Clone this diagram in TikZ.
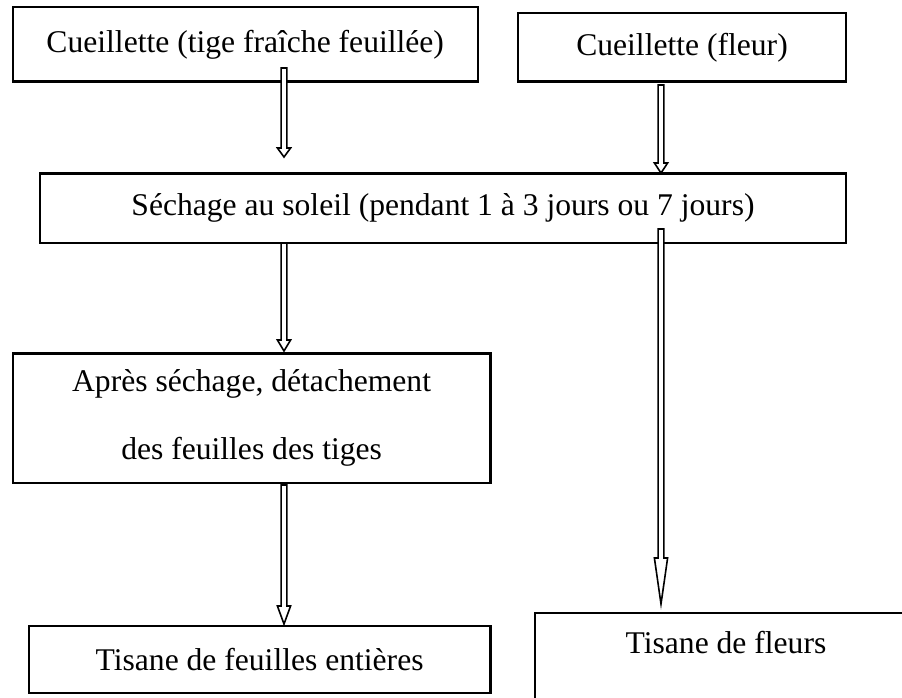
\documentclass[tikz,border=0pt]{standalone}
\usepackage{fontspec}
\setmainfont{Liberation Serif}
\usetikzlibrary{calc}
\tikzset{
  box/.style={draw=black, line width=2.4pt, fill=white, rectangle, inner sep=0pt,
    font=\fontsize{31.6}{38}\selectfont, align=center},
  arrowline/.style={draw=black, fill=white, line width=1.6pt, line join=miter},
  label text/.style={inner sep=0pt, font=\fontsize{31.6}{38}\selectfont}
}
\newcommand\myblockarrow[3]{%
  \draw[arrowline] ($(#1)+(-2.9,0)$) -- ($(#1)+(2.9,0)$) -- ($(#2)+(2.9,-#3)$)
    -- ($(#2)+(6.6,-#3)$) -- (#2) -- ($(#2)+(-6.6,-#3)$) -- ($(#2)+(-2.9,-#3)$) -- cycle;}
\begin{document}
\begin{tikzpicture}[x=1pt,y=-1pt]
\useasboundingbox (0,0) rectangle (902,698);
\clip (0,0) rectangle (902,698);
\fill[white] (0,0) rectangle (902,698);

\node[box, minimum width=465pt, minimum height=74.4pt] (b1) at (245.2,44.5)
  {Cueillette (tige fraîche feuillée)};
\node[box, minimum width=328pt, minimum height=68.4pt] (b2) at (682,47.5)
  {Cueillette (fleur)};
\node[box, minimum width=806pt, minimum height=69.7pt] (sech) at (443,208.2)
  {Séchage au soleil (pendant 1 à 3 jours ou 7 jours)};
\node[box, minimum width=477.8pt, minimum height=129.5pt,
  font=\fontsize{31.6}{68}\selectfont] (apres) at (251.6,418.2)
  {Après séchage, détachement\\des feuilles des tiges};
\node[box, minimum width=461.7pt, minimum height=67pt] (tfe) at (259.6,659.5)
  {Tisane de feuilles entières};
\node[box, minimum width=386pt, minimum height=128pt, anchor=north west] (tfl) at (534,612) {};
\node[label text] (tflt) at (726,643) {Tisane de fleurs};

% arrow end points
\coordinate (a1s) at (284,68);   \coordinate (a1t) at (284,157);
\coordinate (a2s) at (661,85);   \coordinate (a2t) at (661,173);
\coordinate (a3s) at (284,243);  \coordinate (a3t) at (284,351);
\coordinate (a4s) at (661,229);  \coordinate (a4t) at (661,604);
\coordinate (a5s) at (284,485);  \coordinate (a5t) at (284,624);

\myblockarrow{a1s}{a1t}{9}
\myblockarrow{a2s}{a2t}{10}
\myblockarrow{a3s}{a3t}{11}
\myblockarrow{a4s}{a4t}{46}
\myblockarrow{a5s}{a5t}{18}
\end{tikzpicture}
\end{document}
